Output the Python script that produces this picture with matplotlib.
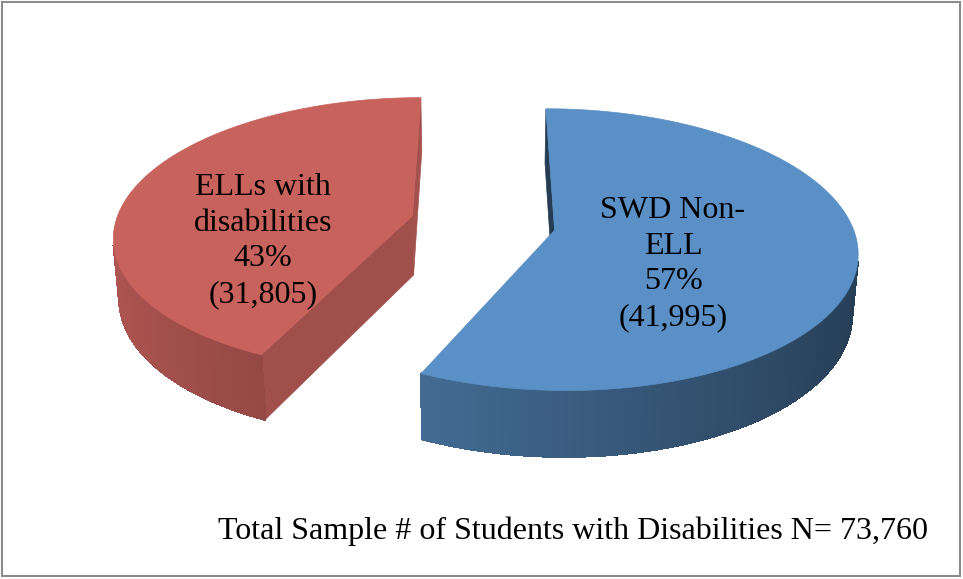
import numpy as np
import matplotlib.pyplot as plt
from matplotlib.colors import to_rgb
from matplotlib.patches import Polygon, Rectangle

# slices, clockwise from 12 o'clock
labels = ["SWD Non-\nELL", "ELLs with\ndisabilities"]
counts = [41995, 31805]
colors = ["#5A90C6", "#C8625D"]
total_n = 73760

# view of the tilted 3d pie (radius = 1)
elev = np.radians(27.3)
cam_dist = 6.5
scale = 297.0
cx, cy = 483.0, 223.0
thick = 0.229
explode = 0.245
sin_e, cos_e = np.sin(elev), np.cos(elev)
cam = np.array([0.0, cam_dist * sin_e, -cam_dist * cos_e])  # (u, h, v)


def proj(u, v, h):
    z = 1 + (v * cos_e - h * sin_e) / cam_dist
    return cx + scale * u / z, cy - scale * (v * sin_e + h * cos_e) / z


def facing(normal, point):
    return np.dot(normal, cam - point) > 0


def shade(color, f):
    return tuple(np.clip(np.array(to_rgb(color)) * f, 0, 1))


fig = plt.figure(figsize=(9.63, 5.79), dpi=100)
ax = fig.add_axes([0, 0, 1, 1])
ax.set_xlim(0, 963)
ax.set_ylim(579, 0)
ax.axis("off")

fracs = np.array(counts) / sum(counts)
start = 90.0
label_pos = [(673, 264), (263, 241)]

for i, frac in enumerate(fracs):
    t2 = np.radians(start)
    t1 = np.radians(start - 360 * frac)
    start -= 360 * frac
    mid = (t1 + t2) / 2
    ou, ov = explode * np.cos(mid), explode * np.sin(mid)
    col = colors[i]

    # flat cut faces along both radii
    for t, nt in [(t1, t1 - np.pi / 2), (t2, t2 + np.pi / 2)]:
        n = np.array([np.cos(nt), 0, np.sin(nt)])
        p = np.array([ou + 0.5 * np.cos(t), -thick / 2, ov + 0.5 * np.sin(t)])
        if facing(n, p):
            pts = [proj(ou, ov, 0), proj(ou + np.cos(t), ov + np.sin(t), 0),
                   proj(ou + np.cos(t), ov + np.sin(t), -thick), proj(ou, ov, -thick)]
            c = shade(col, 0.62 + 0.2 * np.cos(nt))
            ax.add_patch(Polygon(pts, closed=True, fc=c, ec=c, lw=0.5))

    # curved outer wall in thin strips
    ts = np.linspace(t1, t2, 400)
    for a, b in zip(ts[:-1], ts[1:]):
        tm = (a + b) / 2
        n = np.array([np.cos(tm), 0, np.sin(tm)])
        p = np.array([ou + np.cos(tm), -thick / 2, ov + np.sin(tm)])
        if not facing(n, p):
            continue
        pts = [proj(ou + np.cos(a), ov + np.sin(a), 0), proj(ou + np.cos(b), ov + np.sin(b), 0),
               proj(ou + np.cos(b), ov + np.sin(b), -thick), proj(ou + np.cos(a), ov + np.sin(a), -thick)]
        c = shade(col, 0.65 - 0.22 * np.cos(tm))
        ax.add_patch(Polygon(pts, closed=True, fc=c, ec=c, lw=1.0, antialiased=False))
        ax.plot([pts[2][0], pts[3][0]], [pts[2][1], pts[3][1]], color=c, lw=1.0,
                solid_capstyle="round")

    # top face
    top = [proj(ou, ov, 0)] + [proj(ou + np.cos(t), ov + np.sin(t), 0) for t in ts]
    ax.add_patch(Polygon(top, closed=True, fc=col, ec=col, lw=0.5))

    txt = f"{labels[i]}\n{round(frac * 100)}%\n({counts[i]:,})"
    ax.text(*label_pos[i], txt, ha="center", va="center", ma="center",
            fontsize=23, family="Liberation Serif", linespacing=1.3)

ax.text(218, 539, f"Total Sample # of Students with Disabilities N= {total_n:,}",
        ha="left", va="baseline", fontsize=23, family="Liberation Serif")

ax.add_patch(Rectangle((2, 2), 958, 574, fill=False, ec="#8c8c8c", lw=1.5))

fig.savefig("out.png", dpi=100)
